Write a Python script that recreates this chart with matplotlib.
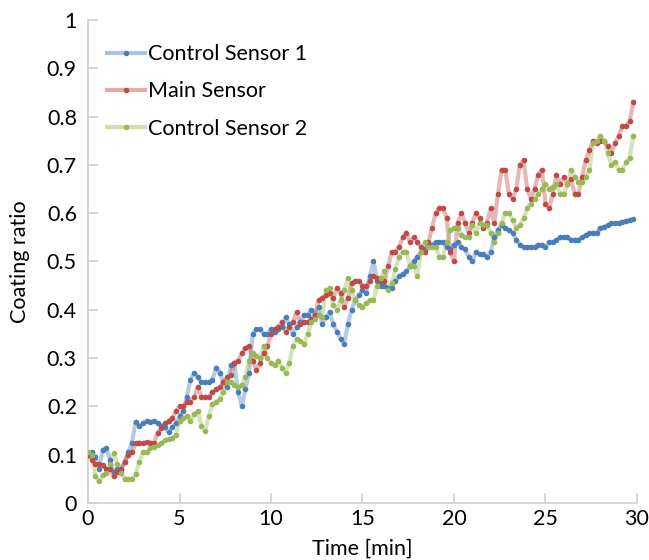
import matplotlib as mpl
import matplotlib.pyplot as plt
import numpy as np

mpl.rcParams['font.family'] = ['Lato', 'DejaVu Sans']
fontsize = 15.5
mpl.rcParams.update({'font.size': fontsize})

# sampling every 0.2 min
time_min = np.arange(150) * 0.2

control_1 = [
    0.10, 0.105, 0.095, 0.07, 0.11, 0.114, 0.09, 0.064, 0.07, 0.068,
    0.085, 0.105, 0.124, 0.168, 0.16, 0.165, 0.17, 0.168, 0.17, 0.165,
    0.16, 0.157, 0.147, 0.157, 0.165, 0.18, 0.19, 0.22, 0.255, 0.27,
    0.26, 0.25, 0.25, 0.25, 0.255, 0.28, 0.27, 0.25, 0.24, 0.285,
    0.29, 0.23, 0.20, 0.235, 0.27, 0.35, 0.36, 0.36, 0.35, 0.35,
    0.36, 0.355, 0.36, 0.365, 0.385, 0.37, 0.35, 0.365, 0.375, 0.39,
    0.39, 0.40, 0.39, 0.405, 0.37, 0.385, 0.395, 0.37, 0.355, 0.34,
    0.33, 0.37, 0.40, 0.42, 0.43, 0.44, 0.435, 0.47, 0.50, 0.46,
    0.45, 0.45, 0.445, 0.445, 0.46, 0.47, 0.475, 0.48, 0.49, 0.50,
    0.51, 0.52, 0.525, 0.53, 0.535, 0.54, 0.54, 0.54, 0.53, 0.525,
    0.535, 0.54, 0.53, 0.525, 0.51, 0.50, 0.52, 0.515, 0.515, 0.51,
    0.52, 0.55, 0.565, 0.575, 0.57, 0.565, 0.56, 0.545, 0.535, 0.53,
    0.53, 0.53, 0.53, 0.535, 0.535, 0.53, 0.54, 0.54, 0.545, 0.55,
    0.55, 0.55, 0.545, 0.545, 0.545, 0.55, 0.555, 0.558, 0.56, 0.56,
    0.57, 0.572, 0.575, 0.58, 0.58, 0.58, 0.582, 0.584, 0.585, 0.587,
]

main_sensor = [
    0.10, 0.09, 0.08, 0.08, 0.078, 0.07, 0.07, 0.055, 0.065, 0.07,
    0.085, 0.10, 0.105, 0.124, 0.125, 0.124, 0.126, 0.125, 0.124, 0.145,
    0.155, 0.165, 0.17, 0.176, 0.19, 0.20, 0.20, 0.21, 0.21, 0.22,
    0.24, 0.22, 0.22, 0.22, 0.23, 0.235, 0.24, 0.25, 0.26, 0.265,
    0.29, 0.295, 0.31, 0.32, 0.325, 0.295, 0.275, 0.29, 0.31, 0.325,
    0.35, 0.36, 0.365, 0.375, 0.355, 0.365, 0.375, 0.395, 0.37, 0.375,
    0.375, 0.38, 0.39, 0.42, 0.425, 0.43, 0.435, 0.425, 0.445, 0.435,
    0.405, 0.425, 0.455, 0.46, 0.46, 0.45, 0.45, 0.46, 0.47, 0.465,
    0.46, 0.46, 0.49, 0.52, 0.52, 0.53, 0.55, 0.56, 0.54, 0.55,
    0.54, 0.53, 0.52, 0.54, 0.57, 0.60, 0.61, 0.61, 0.59, 0.52,
    0.50, 0.58, 0.60, 0.58, 0.56, 0.58, 0.60, 0.59, 0.57, 0.58,
    0.61, 0.58, 0.64, 0.69, 0.69, 0.64, 0.63, 0.65, 0.70, 0.71,
    0.65, 0.63, 0.65, 0.68, 0.69, 0.62, 0.61, 0.64, 0.68, 0.66,
    0.675, 0.66, 0.67, 0.64, 0.64, 0.675, 0.71, 0.73, 0.75, 0.745,
    0.75, 0.75, 0.74, 0.725, 0.745, 0.76, 0.78, 0.78, 0.79, 0.83,
]

control_2 = [
    0.105, 0.10, 0.055, 0.045, 0.058, 0.062, 0.08, 0.103, 0.08, 0.062,
    0.05, 0.05, 0.05, 0.06, 0.085, 0.105, 0.105, 0.113, 0.115, 0.12,
    0.124, 0.13, 0.132, 0.135, 0.14, 0.17, 0.175, 0.18, 0.17, 0.185,
    0.19, 0.16, 0.15, 0.18, 0.205, 0.21, 0.215, 0.23, 0.25, 0.25,
    0.245, 0.24, 0.245, 0.26, 0.295, 0.31, 0.305, 0.30, 0.325, 0.30,
    0.29, 0.285, 0.295, 0.28, 0.27, 0.29, 0.325, 0.34, 0.335, 0.33,
    0.35, 0.375, 0.38, 0.39, 0.385, 0.44, 0.445, 0.41, 0.40, 0.42,
    0.44, 0.465, 0.44, 0.42, 0.41, 0.405, 0.415, 0.42, 0.42, 0.45,
    0.465, 0.48, 0.44, 0.455, 0.485, 0.51, 0.52, 0.52, 0.49, 0.49,
    0.47, 0.52, 0.54, 0.53, 0.53, 0.53, 0.51, 0.51, 0.54, 0.565,
    0.57, 0.57, 0.555, 0.55, 0.55, 0.575, 0.56, 0.58, 0.575, 0.575,
    0.56, 0.54, 0.56, 0.58, 0.60, 0.60, 0.585, 0.57, 0.575, 0.59,
    0.61, 0.62, 0.63, 0.64, 0.65, 0.66, 0.65, 0.655, 0.66, 0.64,
    0.64, 0.66, 0.69, 0.675, 0.665, 0.665, 0.675, 0.69, 0.745, 0.75,
    0.76, 0.75, 0.725, 0.70, 0.705, 0.69, 0.69, 0.705, 0.715, 0.76,
]

series = [
    ('Control Sensor 1', control_1, '#4a7ebb'),
    ('Main Sensor', main_sensor, '#be4b48'),
    ('Control Sensor 2', control_2, '#98b954'),
]

fig = plt.figure(figsize=(6.49, 5.60), dpi=100)
ax = fig.add_axes([0.1356, 0.1018, 0.8459, 0.8625])

for label, values, color in series:
    ax.plot(time_min, values, color=color, alpha=0.4, linewidth=3, zorder=2)
    ax.plot(time_min, values, color=color, linestyle='none', marker='o',
            markersize=4, markeredgewidth=0, zorder=3)
    # legend proxy: light line + dot
    ax.plot([], [], color=mpl.colors.to_rgba(color, 0.45), linewidth=3,
            marker='o', markersize=4, markerfacecolor=color,
            markeredgewidth=0, label=label)

ax.set_xlim(0, 30)
ax.set_ylim(0, 1)
ax.set_xticks(range(0, 31, 5))
ax.set_yticks(np.arange(0, 1.01, 0.1))
ax.set_yticklabels(['0', '0.1', '0.2', '0.3', '0.4', '0.5', '0.6', '0.7',
                    '0.8', '0.9', '1'])

for side in ['top', 'right']:
    ax.spines[side].set_visible(False)
for side in ['left', 'bottom']:
    ax.spines[side].set_color('#cfcfcf')
    ax.spines[side].set_linewidth(1.2)
ax.tick_params(direction='in', length=7, width=1.2, color='#cfcfcf',
               labelsize=fontsize, pad=8)
ax.tick_params(axis='x', pad=4)

ax.set_xlabel('Time [min]', fontsize=fontsize, labelpad=7)
ax.set_ylabel('Coating ratio', fontsize=fontsize, labelpad=12)

leg = ax.legend(loc='upper left', bbox_to_anchor=(0.0, 0.99), frameon=False,
                handlelength=1.75, handletextpad=0.15, labelspacing=0.8,
                fontsize=fontsize)

fig.savefig('out.png', dpi=100)
